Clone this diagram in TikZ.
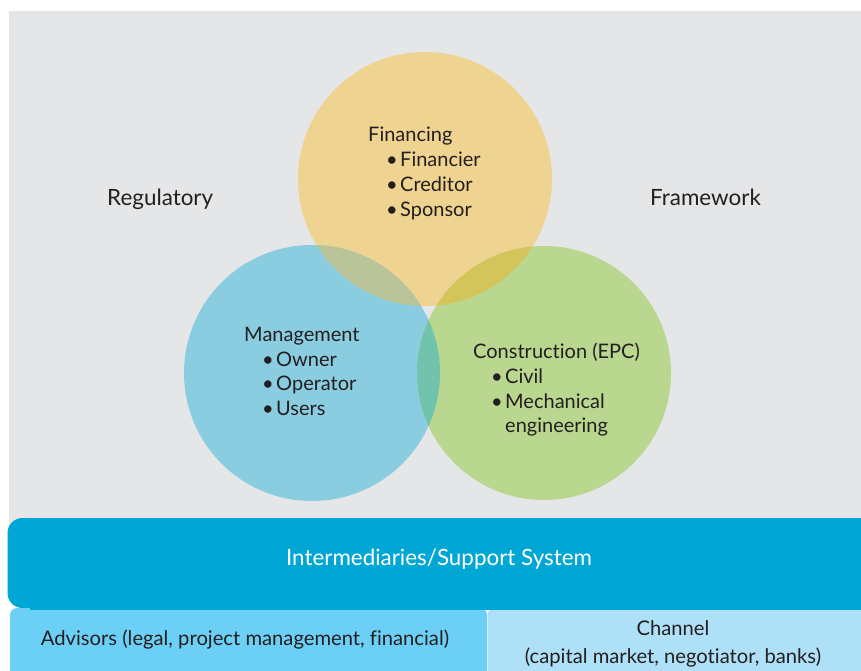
\documentclass[tikz,border=0pt]{standalone}
\usepackage{fontspec}
\setmainfont{Lato}[Ligatures={NoCommon}]
\definecolor{bggray}{HTML}{E5E6E8}
\definecolor{cyel}{HTML}{EFD391}
\definecolor{cblue}{HTML}{8BCDE0}
\definecolor{cgreen}{HTML}{B9D78F}
\definecolor{cby}{HTML}{B9C498}
\definecolor{cyg}{HTML}{D4C55A}
\definecolor{cbg}{HTML}{71C3AC}
\definecolor{bardark}{HTML}{00A6D4}
\definecolor{boxmid}{HTML}{6CCFF6}
\definecolor{boxlight}{HTML}{AEE0F7}
\definecolor{textc}{HTML}{231F20}
\begin{document}
\begin{tikzpicture}[x=1pt,y=-1pt,
  txt/.style={anchor=base west, inner sep=0pt, font=\fontsize{20}{24}\selectfont, text=textc},
  bigtxt/.style={anchor=base west, inner sep=0pt, font=\fontsize{22.4}{27}\selectfont, text=textc},
  bartxt/.style={anchor=base, inner sep=0pt, font=\fontsize{22.4}{27}\selectfont, text=white},
  boxtxt/.style={anchor=base, inner sep=0pt, font=\fontsize{20.2}{24}\selectfont, text=textc}]
\useasboundingbox (0,0) rectangle (861,670);
\begin{scope}
\clip (0,0) rectangle (861,670);
\fill[bggray] (9,11) rectangle (861,530);
% circles
\coordinate (cy) at (425,179);
\coordinate (cb) at (312,373);
\coordinate (cg) at (544,373);
\fill[cyel] (cy) circle[radius=127pt];
\fill[cblue] (cb) circle[radius=128pt];
\fill[cgreen] (cg) circle[radius=127pt];
\begin{scope}
\clip (cy) circle[radius=127pt];
\fill[cby] (cb) circle[radius=128pt];
\fill[cyg] (cg) circle[radius=127pt];
\end{scope}
\begin{scope}
\clip (cb) circle[radius=128pt];
\fill[cbg] (cg) circle[radius=127pt];
\end{scope}
% bottom bands
\fill[bardark, rounded corners=15pt] (7.5,518) rectangle (900,608);
\fill[boxmid, rounded corners=7pt] (10,608) rectangle (487,700);
\fill[boxlight, rounded corners=7pt] (487.5,608) rectangle (900,700);
\fill[bardark] (30,608) rectangle (900,609.5);
\end{scope}
% texts
\node[bigtxt] (reg) at (107,205) {Regulatory};
\node[bigtxt] (fw) at (650,205) {Framework};
\node[txt] (fin) at (368,141.7) {Financing};
\node[txt] (fin1) at (386,166.5) {\makebox[14pt][l]{\textbullet}Financier};
\node[txt] (fin2) at (386,191.3) {\makebox[14pt][l]{\textbullet}Creditor};
\node[txt] (fin3) at (386,216) {\makebox[14pt][l]{\textbullet}Sponsor};
\node[txt] (man) at (244,341.7) {Management};
\node[txt] (man1) at (262,366.2) {\makebox[14pt][l]{\textbullet}Owner};
\node[txt] (man2) at (262,390.7) {\makebox[14pt][l]{\textbullet}Operator};
\node[txt] (man3) at (262,415) {\makebox[14pt][l]{\textbullet}Users};
\node[txt] (con) at (473,358.3) {Construction (EPC)};
\node[txt] (con1) at (491,383.3) {\makebox[14pt][l]{\textbullet}Civil};
\node[txt] (con2) at (491,408.3) {\makebox[14pt][l]{\textbullet}Mechanical};
\node[txt] (con3) at (505,432.5) {engineering};
\node[bartxt] (inter) at (439,565) {Intermediaries/Support System};
\node[boxtxt, anchor=base west] (adv) at (40.7,645.7) {Advisors (legal, project management, financial)};
\node[boxtxt] (ch1) at (673,635) {Channel};
\node[boxtxt] (ch2) at (673,663) {(capital market, negotiator, banks)};
\end{tikzpicture}
\end{document}
